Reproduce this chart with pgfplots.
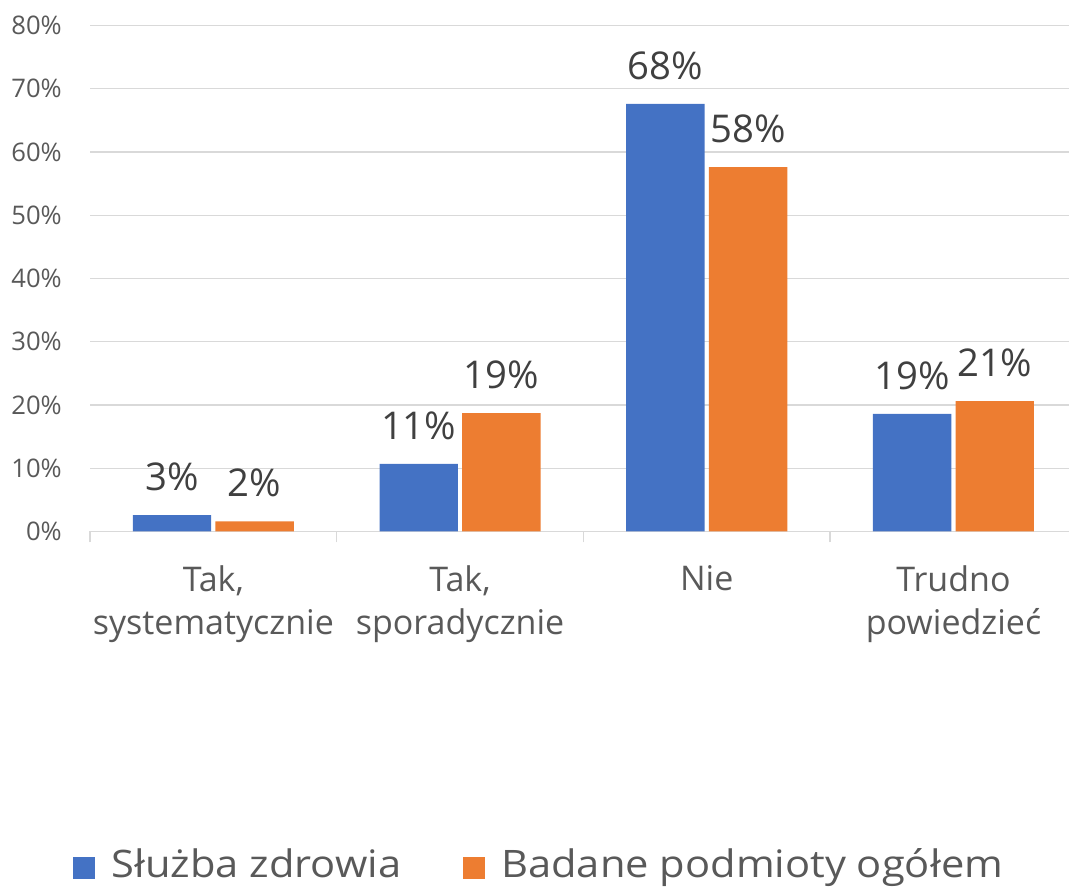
\documentclass[border=0pt]{standalone}
\usepackage{fontspec}
\setmainfont{Open Sans}
\newfontfamily\legfont[FakeStretch=1.1]{Open Sans}
\usepackage{pgfplots}
\pgfplotsset{compat=1.18}
\definecolor{sblue}{HTML}{4472C4}
\definecolor{sorange}{HTML}{ED7D31}
\definecolor{gridc}{HTML}{D9D9D9}
\definecolor{tickc}{HTML}{595959}
\definecolor{labc}{HTML}{404040}
\begin{document}
\begin{tikzpicture}
\begin{axis}[
  at={(67.5pt,267.4pt)}, anchor=south west,
  scale only axis, width=740.1pt, height=379.5pt,
  ybar=3.2pt, bar width=58.8pt,
  xmin=-0.5, xmax=3.5, ymin=0, ymax=80,
  axis x line*=bottom, axis y line*=left,
  x axis line style={draw=gridc, line width=1pt, -},
  y axis line style={draw=none},
  ytick={0,10,...,80},
  yticklabels={0\%,10\%,20\%,30\%,40\%,50\%,60\%,70\%,80\%},
  ymajorgrids, grid style={draw=gridc, line width=1pt},
  xtick={0,1,2,3},
  xticklabels={{Tak,\\systematycznie},{Tak,\\sporadycznie},{Nie},{Trudno\\powiedzieć}},
  minor xtick={-0.5,0.5,1.5,2.5,3.5},
  major tick length=0pt, minor tick length=8.25pt,
  tick align=outside,
  tick style={draw=gridc, line width=1pt},
  yticklabel style={font=\fontsize{19.2}{23}\selectfont, text=tickc, inner sep=0pt, anchor=east, xshift=-21pt},
  xticklabel style={font=\fontsize{25.5}{32.5}\selectfont, text=tickc, align=center, inner sep=0pt, anchor=north, yshift=-25.5pt},
  nodes near coords, point meta=explicit symbolic,
  every node near coord/.append style={font=\fontsize{28.7}{34}\selectfont, text=labc, anchor=base, yshift=18.4pt, inner sep=0pt},
  legend columns=2,
  legend cell align=left,
  legend style={at={(-0.0169,-0.6868)}, anchor=south west, draw=none, fill=none,
    inner sep=0pt, outer sep=0pt, font=\legfont\fontsize{28.4}{34}\selectfont, text=tickc,
    nodes={inner sep=0pt, text depth=0pt},
    /tikz/every odd column/.append style={column sep=12pt},
    /tikz/every even column/.append style={column sep=46.5pt}},
]
\addplot[fill=sblue, draw=none,
  legend image code/.code={\fill[sblue] (0pt,-12pt) rectangle (16.5pt,4.5pt);}]
  coordinates {(0,2.6)[3\%] (1,10.7)[11\%] (2,67.6)[68\%] (3,18.6)[19\%]};
\addplot[fill=sorange, draw=none,
  legend image code/.code={\fill[sorange] (0pt,-12pt) rectangle (16.5pt,4.5pt);}]
  coordinates {(0,1.6)[2\%] (1,18.7)[19\%] (2,57.6)[58\%] (3,20.6)[21\%]};
\legend{Służba zdrowia, Badane podmioty ogółem}
\end{axis}
\pgfresetboundingbox
\useasboundingbox (0,0) rectangle (801.75pt,666pt);
\end{tikzpicture}
\end{document}
